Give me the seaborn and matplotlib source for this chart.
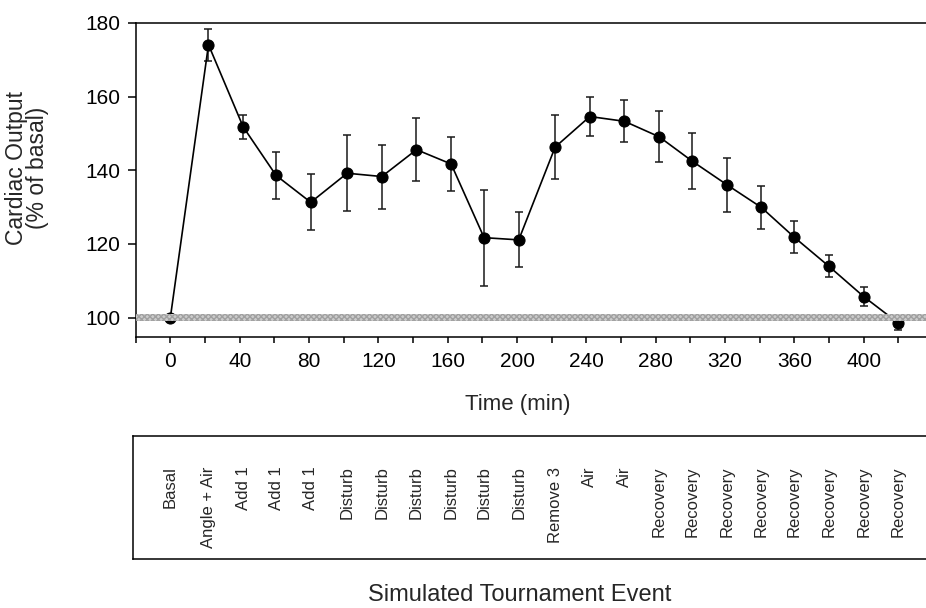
import matplotlib
matplotlib.use("Agg")
import matplotlib.pyplot as plt
import matplotlib.transforms as mtransforms
import pandas as pd
import seaborn as sns

# Mean cardiac output (% of basal) and SEM at each sampling time
time_min = [0, 22, 42, 61, 81, 102, 122, 142, 162, 181, 201,
            222, 242, 262, 282, 301, 321, 341, 360, 380, 400, 420]
cardiac_output = [100.0, 174.1, 151.8, 138.6, 131.3, 139.2, 138.3, 145.6, 141.7,
                  121.7, 121.1, 146.3, 154.6, 153.3, 149.1, 142.5, 136.1, 129.9,
                  121.8, 113.9, 105.7, 98.5]
sem = [0.0, 4.3, 3.3, 6.4, 7.6, 10.3, 8.7, 8.6, 7.3, 13.0, 7.5,
       8.8, 5.4, 5.7, 6.9, 7.7, 7.3, 5.8, 4.3, 3.0, 2.5, 1.9]
events = ["Basal", "Angle + Air", "Add 1", "Add 1", "Add 1",
          "Disturb", "Disturb", "Disturb", "Disturb", "Disturb", "Disturb",
          "Remove 3", "Air", "Air",
          "Recovery", "Recovery", "Recovery", "Recovery",
          "Recovery", "Recovery", "Recovery", "Recovery"]
x_major_ticks = [0, 40, 80, 120, 160, 200, 240, 280, 320, 360, 400]
x_minor_ticks = [-20, 20, 60, 100, 140, 180, 220, 260, 300, 340, 380, 420]
y_ticks = [100, 120, 140, 160, 180]

df = pd.DataFrame({"time": time_min, "co": cardiac_output, "sem": sem})

sns.set_style("ticks")
plt.rcParams["font.family"] = ["Liberation Sans", "DejaVu Sans"]

W, H = 926, 608
fig = plt.figure(figsize=(W / 100, H / 100), dpi=100)


def px_box(left, top, right, bottom):
    return [left / W, 1 - bottom / H, (right - left) / W, (bottom - top) / H]


# main time-course panel (its right spine runs just past the figure edge)
ax = fig.add_axes(px_box(135.7, 23, 933, 336.7))
ax.set_xlim(-20, 440)
ax.set_ylim(94.8, 180)

# basal reference band
ax.axhspan(99.15, 100.85, facecolor="#cccccc", edgecolor="#a0a0a0",
           hatch="xxxxxx", linewidth=0, zorder=6)

ax.errorbar(df["time"], df["co"], yerr=df["sem"], fmt="none", ecolor="#1a1a1a",
            elinewidth=1.1, capsize=3.2, capthick=1.1, zorder=2)
sns.lineplot(data=df, x="time", y="co", ax=ax, color="black", linewidth=1.2,
             marker="o", markersize=8, markeredgecolor="black",
             markerfacecolor="black", zorder=4)

for s in ["left", "bottom", "top", "right"]:
    ax.spines[s].set_visible(True)
    ax.spines[s].set_linewidth(1.1)
    ax.spines[s].set_color("black")

ax.set_xticks(x_major_ticks)
ax.set_xticklabels([str(t) for t in x_major_ticks])
ax.set_xticks(x_minor_ticks, minor=True)
ax.set_yticks(y_ticks)
ax.set_yticklabels([str(t) for t in y_ticks])
ax.tick_params(axis="x", which="both", direction="out", length=4, width=1.1,
               pad=7, labelsize=15, colors="black")
ax.tick_params(axis="y", direction="out", length=6, width=1.1, pad=5,
               labelsize=15, colors="black")
ax.set_xlabel("")
ax.set_ylabel("")

fig.text(518 / W, 1 - 410 / H, "Time (min)", ha="center", va="baseline",
         fontsize=16)
fig.text(27 / W, 1 - 168 / H, "Cardiac Output\n(% of basal)", rotation=90,
         ha="center", va="center", fontsize=16.5, linespacing=0.9,
         multialignment="center")

# event panel underneath, labels aligned with the sampling times
ax2 = fig.add_axes(px_box(133, 435.7, 935, 559))
ax2.set_xticks([])
ax2.set_yticks([])
for s in ax2.spines.values():
    s.set_visible(True)
    s.set_linewidth(1.1)
    s.set_color("black")
trans = mtransforms.blended_transform_factory(ax.transData, ax2.transAxes)
for t, label in zip(time_min, events):
    ax2.text(t, 0.75, label, transform=trans, rotation=90, ha="center",
             va="top", fontsize=12)

fig.text(520 / W, 1 - 601 / H, "Simulated Tournament Event", ha="center",
         va="baseline", fontsize=17)

fig.savefig("out.png", dpi=100)
